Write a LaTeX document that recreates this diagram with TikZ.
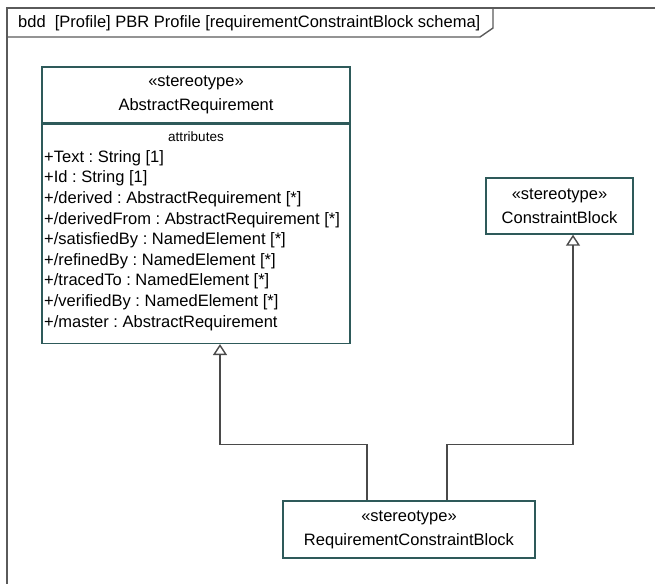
\documentclass[tikz,border=0pt]{standalone}
\usepackage{fontspec}
\setmainfont{Liberation Sans}
\usepackage{xcolor}
\usepackage{tikz}
\usetikzlibrary{positioning, arrows.meta, calc}

\definecolor{boxteal}{HTML}{2E5A5A}
\definecolor{linegray}{HTML}{4A4A4A}
\definecolor{framegray}{HTML}{5A5A5A}
\frenchspacing

\begin{document}
\begin{tikzpicture}[x=1pt, y=-1pt,
    block/.style={draw=boxteal, line width=1.4pt, fill=white, inner sep=0pt, align=center, font=\fontsize{16.5}{24}\selectfont},
    attr/.style={anchor=west, inner sep=0pt, font=\fontsize{16.5}{20}\selectfont},
    gen/.style={draw=linegray, line width=1.4pt, -{Triangle[open, length=11pt, width=14pt]}},
    frame/.style={draw=framegray, line width=1.4pt}]
  \useasboundingbox (0,0) rectangle (655,584);

  \draw[frame] (655,8) -- (7,8) -- (7,584);
  \draw[frame] (7,37) -- (480,37) -- (493,28) -- (493,8);
  \node[attr] (title) at (18,23) {bdd\ \ [Profile] PBR Profile [requirementConstraintBlock schema]};

  \node[block, minimum width=308pt, minimum height=56pt] (absreq) at (196,95) {«stereotype»\\AbstractRequirement};
  \node[block, minimum width=308pt, minimum height=219pt, below=0pt of absreq] (absattr) {};
  \node[inner sep=0pt, font=\fontsize{13.5}{16}\selectfont] (attrlabel) at (196,137) {attributes};
  \foreach \i/\val in {0/{+Text : String [1]}, 1/{+Id : String [1]},
      2/{+/derived : AbstractRequirement [*]}, 3/{+/derivedFrom : AbstractRequirement [*]},
      4/{+/satisfiedBy : NamedElement [*]}, 5/{+/refinedBy : NamedElement [*]},
      6/{+/tracedTo : NamedElement [*]}, 7/{+/verifiedBy : NamedElement [*]},
      8/{+/master : AbstractRequirement}} {
    \node[attr] (attr\i) at (44,158+20.6*\i) {\val};
  }

  \node[block, minimum width=147pt, minimum height=56pt] (cblock) at (559.5,206) {«stereotype»\\ConstraintBlock};
  \node[block, minimum width=252pt, minimum height=57pt] (rcb) at (409,529.5) {«stereotype»\\RequirementConstraintBlock};

  \draw[gen] ([xshift=-42pt]rcb.north) -- ++(0,-56) -| ([xshift=24pt]absattr.south);
  \draw[gen] ([xshift=38pt]rcb.north) -- ++(0,-56) -| ([xshift=13.5pt]cblock.south);
\end{tikzpicture}
\end{document}
